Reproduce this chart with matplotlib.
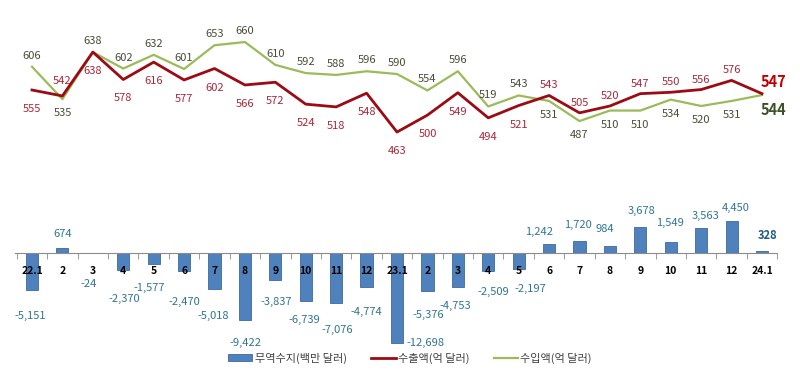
import matplotlib
matplotlib.use('Agg')
import matplotlib.pyplot as plt
import numpy as np

# 월별 데이터 (22.1 ~ 24.1)
months = ['22.1', '2', '3', '4', '5', '6', '7', '8', '9', '10', '11', '12',
          '23.1', '2', '3', '4', '5', '6', '7', '8', '9', '10', '11', '12', '24.1']
exports = [555, 542, 638, 578, 616, 577, 602, 566, 572, 524, 518, 548,
           463, 500, 549, 494, 521, 543, 505, 520, 547, 550, 556, 576, 547]
imports = [606, 535, 638, 602, 632, 601, 653, 660, 610, 592, 588, 596,
           590, 554, 596, 519, 543, 531, 487, 510, 510, 534, 520, 531, 544]
balance = [-5151, 674, -24, -2370, -1577, -2470, -5018, -9422, -3837, -6739, -7076, -4774,
           -12698, -5376, -4753, -2509, -2197, 1242, 1720, 984, 3678, 1549, 3563, 4450, 328]

# 라벨 위치 (a: 위, b: 아래)
exp_pos = ['b', 'a'] + ['b'] * 15 + ['a'] * 7
imp_pos = ['a', 'b'] + ['a'] * 15 + ['b'] * 7
# 막대 라벨 오프셋 (픽셀)
bal_off = [(-2, -26), (0, 14), (-4, -31), (1, -29), (-4, -24), (0, -31), (-1, -27),
           (1, -23), (1, -22), (-1, -19), (1, -27), (0, -25), (28, 0), (1, -24),
           (-3, -19), (5, -21), (12, -20), (-10, 12), (-2, 16), (-5, 17), (1, 16),
           (-1, 19), (4, 12), (4, 13), (6, 15)]

plt.rcParams['font.family'] = ['Noto Sans CJK KR', 'DejaVu Sans']

W, H = 800, 377
fig = plt.figure(figsize=(W / 100, H / 100), dpi=100)
x = np.arange(len(months))
xlim = (-32 / 30.42, 24 + 38 / 30.42)

RED = '#9C0A14'
GREEN = '#9BBB59'
RED_TXT = '#A8283A'
GREEN_TXT = '#4A4A3A'
BLUE = '#4F81BD'
BLUE_TXT = '#2F7497'

# 수출/수입 선 그래프
ax1 = fig.add_axes([0, 1 - 180 / H, 1, 180 / H])
ax1.set_xlim(xlim)
ax1.set_ylim(358, 752)
ax1.axis('off')
l_exp, = ax1.plot(x, exports, color=RED, lw=2.0, zorder=3)
l_imp, = ax1.plot(x, imports, color=GREEN, lw=1.6, zorder=2)

n = len(months)
for i in range(n - 1):
    dy = 10 if exp_pos[i] == 'a' else -19
    if i == 1:
        dy = 15
    ax1.annotate(str(exports[i]), (x[i], exports[i]), xytext=(0, dy),
                 textcoords='offset pixels', ha='center', va='center',
                 fontsize=8, color=RED_TXT)
    dy = 11 if imp_pos[i] == 'a' else -14
    ax1.annotate(str(imports[i]), (x[i], imports[i]), xytext=(0, dy),
                 textcoords='offset pixels', ha='center', va='center',
                 fontsize=8, color=GREEN_TXT)
ax1.annotate(str(exports[-1]), (x[-1], exports[-1]), xytext=(11, 12),
             textcoords='offset pixels', ha='center', va='center',
             fontsize=10.5, fontweight='bold', color='#C00000')
ax1.annotate(str(imports[-1]), (x[-1], imports[-1]), xytext=(11, -15),
             textcoords='offset pixels', ha='center', va='center',
             fontsize=10.5, fontweight='bold', color='#3B5323')

# 무역수지 막대 그래프
ax2 = fig.add_axes([0, 27 / H, 1, 170 / H])
ax2.set_xlim(xlim)
ax2.set_ylim(-13680, 10300)
bars = ax2.bar(x, balance, width=0.4, color=BLUE, edgecolor='#3C6A9E', lw=0.6)
for s in ['top', 'right', 'left']:
    ax2.spines[s].set_visible(False)
ax2.spines['bottom'].set_position(('data', 0))
ax2.spines['bottom'].set_bounds(-0.56, 24.49)
ax2.spines['bottom'].set_color('#8C8C8C')
ax2.set_yticks([])
ax2.set_xticks(x)
ax2.set_xticklabels(months, fontsize=7.5, fontweight='bold', color='black')
ax2.tick_params(axis='x', which='major', length=0, pad=9)
ax2.set_xticks(np.arange(-0.5, 24.6, 1), minor=True)
ax2.tick_params(axis='x', which='minor', length=4, color='#8C8C8C', direction='out')

for i, v in enumerate(balance):
    last = i == n - 1
    ax2.annotate(f'{v:,}', (x[i], v), xytext=bal_off[i], textcoords='offset pixels',
                 ha='center', va='center', fontsize=8,
                 fontweight='bold' if last else 'normal',
                 color='#1F5A85' if last else BLUE_TXT)

fig.legend([bars, l_exp, l_imp],
           ['무역수지(백만 달러)', '수출액(억 달러)', '수입액(억 달러)'],
           loc='center', bbox_to_anchor=(410 / W, 1 - 358 / H), ncol=3, frameon=False,
           fontsize=8, handlelength=2.2, handleheight=0.5, columnspacing=2.2,
           handletextpad=0.2, labelcolor='#404040')

fig.savefig('out.png', dpi=100)
